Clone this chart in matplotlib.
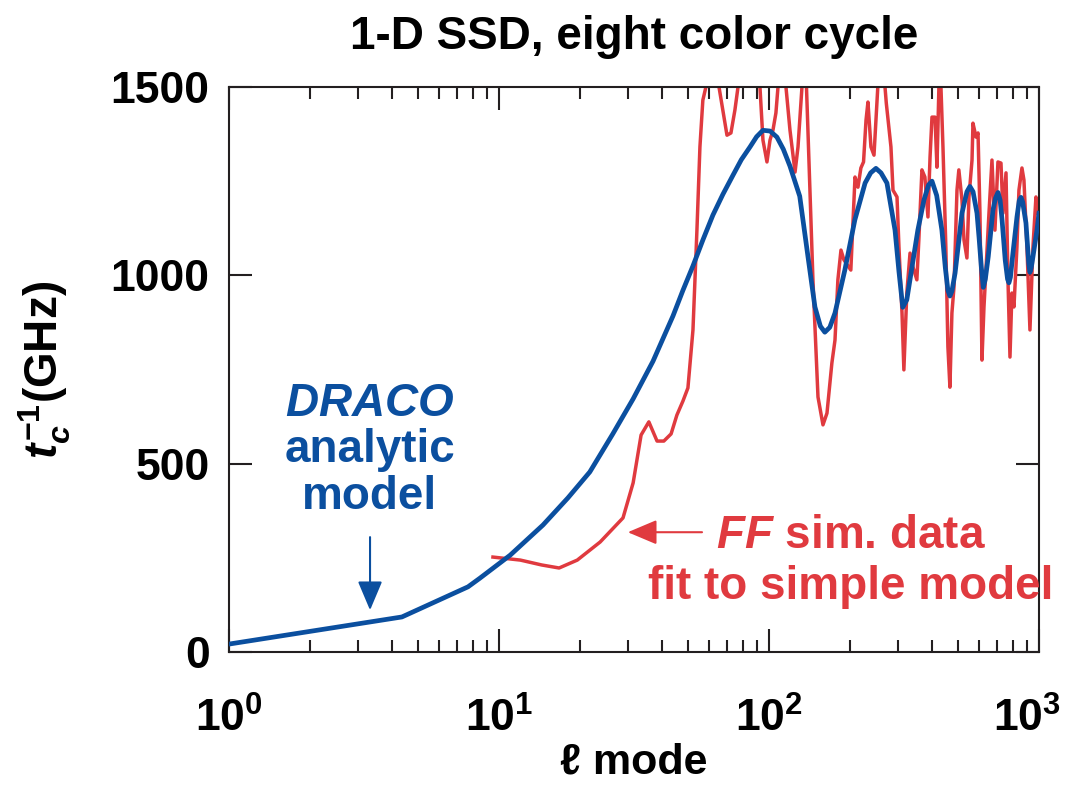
import matplotlib
matplotlib.use("Agg")
import matplotlib.pyplot as plt
from matplotlib.transforms import ScaledTranslation

# analytic model (DRACO), l mode vs 1/t_c in GHz
blue_l = [1.0, 4.37, 7.68, 8.5, 11.0, 14.55, 18.0, 21.7, 26.4, 31.4, 37.2, 40.5,
          44.1, 48.0, 52.3, 57.0, 62.0, 67.5, 73.6, 79.0, 85.1, 90.0, 95.0, 101,
          107, 113, 119.6, 130, 139.5, 148, 155, 161, 168, 175.6, 191, 208, 227,
          238, 249, 260, 273.5, 293, 303, 313, 324, 340, 356, 375, 390, 401.6,
          418, 437, 450, 460, 468, 476, 489, 518.6, 541, 555, 570, 589.5, 600,
          612, 622, 633, 649, 675.5, 690, 705, 718, 730, 750, 765, 774, 784,
          801, 829, 845, 858, 870, 895, 917, 926, 936, 950, 983, 1000]
blue_rate = [21, 93, 173, 196, 257, 337, 409, 478, 579, 672, 772, 832,
             892, 960, 1025, 1095, 1160, 1215, 1266, 1307, 1341, 1368, 1385, 1383,
             1367, 1335, 1290, 1210, 1049, 916, 865, 849, 862, 900, 1014, 1147, 1245,
             1272, 1284, 1272, 1245, 1120, 1010, 915, 935, 1030, 1120, 1200, 1240, 1250,
             1212, 1120, 1020, 960, 945, 958, 1006, 1165, 1222, 1236, 1222, 1165, 1100,
             1020, 968, 990, 1050, 1173, 1205, 1220, 1200, 1147, 1040, 990, 980, 995,
             1059, 1155, 1198, 1207, 1195, 1139, 1030, 1008, 1020, 1049, 1120, 1165]

# FF simulation data fit to simple model
red_l = [9.5, 12.0, 14.4, 16.7, 19.5, 23.7, 28.8, 31.4, 33.6, 35.9,
         38.5, 40.8, 43.4, 45.6, 48.0, 50.1, 52.3, 54.1, 55.5, 56.9,
         58.4, 61.5, 65.3, 69.9, 72.3, 74.8, 76.8, 84.0, 92.6, 95.0,
         98.3, 100.9, 103.5, 106.1, 108.0, 111.5, 115.6, 119.6, 124.9, 128.1,
         132.5, 135.0, 137.7, 145.5, 151.9, 158.5, 164, 171, 175.6, 180,
         184.8, 189.5, 201, 204.8, 208.3, 213.6, 219, 224, 228.8, 232.6,
         238.6, 244.9, 249, 253, 261, 269, 272, 283, 288, 298,
         303, 311, 316, 324, 333, 341.5, 353, 359, 368.6, 378,
         388, 395, 401.6, 412, 419, 426, 430, 433.5, 441, 452,
         460, 468, 476, 484.5, 497, 505, 518.6, 527.6, 541, 550.5,
         565, 569.6, 584.6, 594.7, 604.6, 615, 625.7, 641.7, 652.9, 669.8,
         687, 704.8, 723.3, 735.8, 755, 767.8, 781, 794, 808, 828.7,
         843, 865, 879.8, 902.7, 926, 950, 974.7, 991.5]
red_rate = [252, 244, 231, 223, 244, 292, 356, 449, 576, 611,
            560, 560, 579, 629, 666, 701, 855, 1120, 1341, 1465,
            1500, 1750, 1500, 1372, 1378, 1439, 1500, 1800, 1500, 1359,
            1301, 1359, 1386, 1431, 1500, 1600, 1500, 1386, 1274, 1341,
            1500, 1600, 1500, 988, 677, 603, 634, 767, 828, 988,
            1067, 1041, 1014, 1147, 1261, 1234, 1285, 1301, 1412, 1460,
            1341, 1319, 1412, 1500, 1580, 1500, 1457, 1341, 1226, 1208,
            1075, 900, 749, 953, 1059, 1022, 988, 1094, 1280, 1261,
            1155, 1314, 1420, 1420, 1287, 1500, 1560, 1500, 1341, 1075,
            810, 703, 900, 969, 1226, 1280, 1200, 1094, 1046, 1208,
            1306, 1404, 1367, 1378, 1165, 775, 916, 1067, 1165, 1306,
            1120, 1301, 1298, 1165, 1272, 988, 783, 953, 916, 1075,
            1226, 1285, 1253, 1075, 855, 1075, 1208, 1165]

x_ticks = [1, 10, 100, 1000]
y_ticks = [0, 500, 1000, 1500]

BLUE = "#0b4f9f"
RED = "#e03a3f"
INK = "#231f20"


def main() -> None:
    plt.rcParams["font.family"] = ["Liberation Sans", "DejaVu Sans"]
    plt.rcParams["font.weight"] = "bold"
    plt.rcParams["axes.labelweight"] = "bold"
    plt.rcParams["mathtext.fontset"] = "custom"
    plt.rcParams["mathtext.rm"] = "Liberation Sans:bold"
    plt.rcParams["mathtext.it"] = "Liberation Sans:bold:italic"
    plt.rcParams["mathtext.bf"] = "Liberation Sans:bold"
    plt.rcParams["mathtext.sf"] = "Liberation Sans:bold"

    fig = plt.figure(figsize=(10.69, 7.88), dpi=100)
    ax = fig.add_axes([0.2142, 0.1726, 0.7577, 0.7170])

    ax.plot(red_l, red_rate, color=RED, lw=2.5, zorder=2)
    ax.plot(blue_l, blue_rate, color=BLUE, lw=3.4, zorder=3,
            solid_joinstyle="round")

    ax.set_xscale("log")
    ax.set_xlim(1, 1000)
    ax.set_ylim(0, 1500)
    ax.set_xticks(x_ticks)
    ax.set_yticks(y_ticks)

    ax.tick_params(which="both", direction="in", top=True, right=True,
                   width=1.5, color=INK, labelsize=32)
    ax.tick_params(which="major", length=16.5)
    ax.tick_params(which="minor", length=8.5)
    ax.tick_params(axis="x", pad=33)
    ax.tick_params(axis="y", pad=14)
    for s in ax.spines.values():
        s.set_linewidth(1.5)
        s.set_color(INK)

    ax.set_title("1-D SSD, eight color cycle", fontsize=33,
                 fontweight="bold", pad=27)
    ax.set_xlabel("\u2113 mode", fontsize=31, fontweight="bold", labelpad=1)
    fig.text(45 / 1069, 1 - 370 / 788, r"$t_c^{-1}$(GHz)", rotation=90,
             ha="center", va="center", fontsize=33)

    # annotations
    ax.text(0.174, 0.357, "$DRACO$\nanalytic\nmodel", transform=ax.transAxes,
            color=BLUE, fontsize=33, ha="center", va="center", linespacing=1.08)
    ax.annotate("", xy=(3.33, 111), xytext=(3.33, 305),
                arrowprops=dict(arrowstyle="-|>,head_length=0.9,head_width=0.38",
                                color=BLUE, lw=1.5, mutation_scale=20,
                                shrinkA=0, shrinkB=0))

    ax.text(0.768, 0.160, "$FF$ sim. data\nfit to simple model",
            transform=ax.transAxes, color=RED, fontsize=33, ha="center",
            va="center", linespacing=1.2)
    ax.annotate("", xy=(30.0, 318), xytext=(56.5, 318),
                arrowprops=dict(arrowstyle="-|>,head_length=0.9,head_width=0.38",
                                color=RED, lw=1.5, mutation_scale=20,
                                shrinkA=0, shrinkB=0))

    # pull the last x label inside the figure, as in the original
    fig.canvas.draw()
    last = ax.get_xticklabels()[-1]
    last.set_transform(last.get_transform()
                       + ScaledTranslation(-12 / 100, 0, fig.dpi_scale_trans))

    fig.savefig("out.png", dpi=100)


if __name__ == "__main__":
    main()
